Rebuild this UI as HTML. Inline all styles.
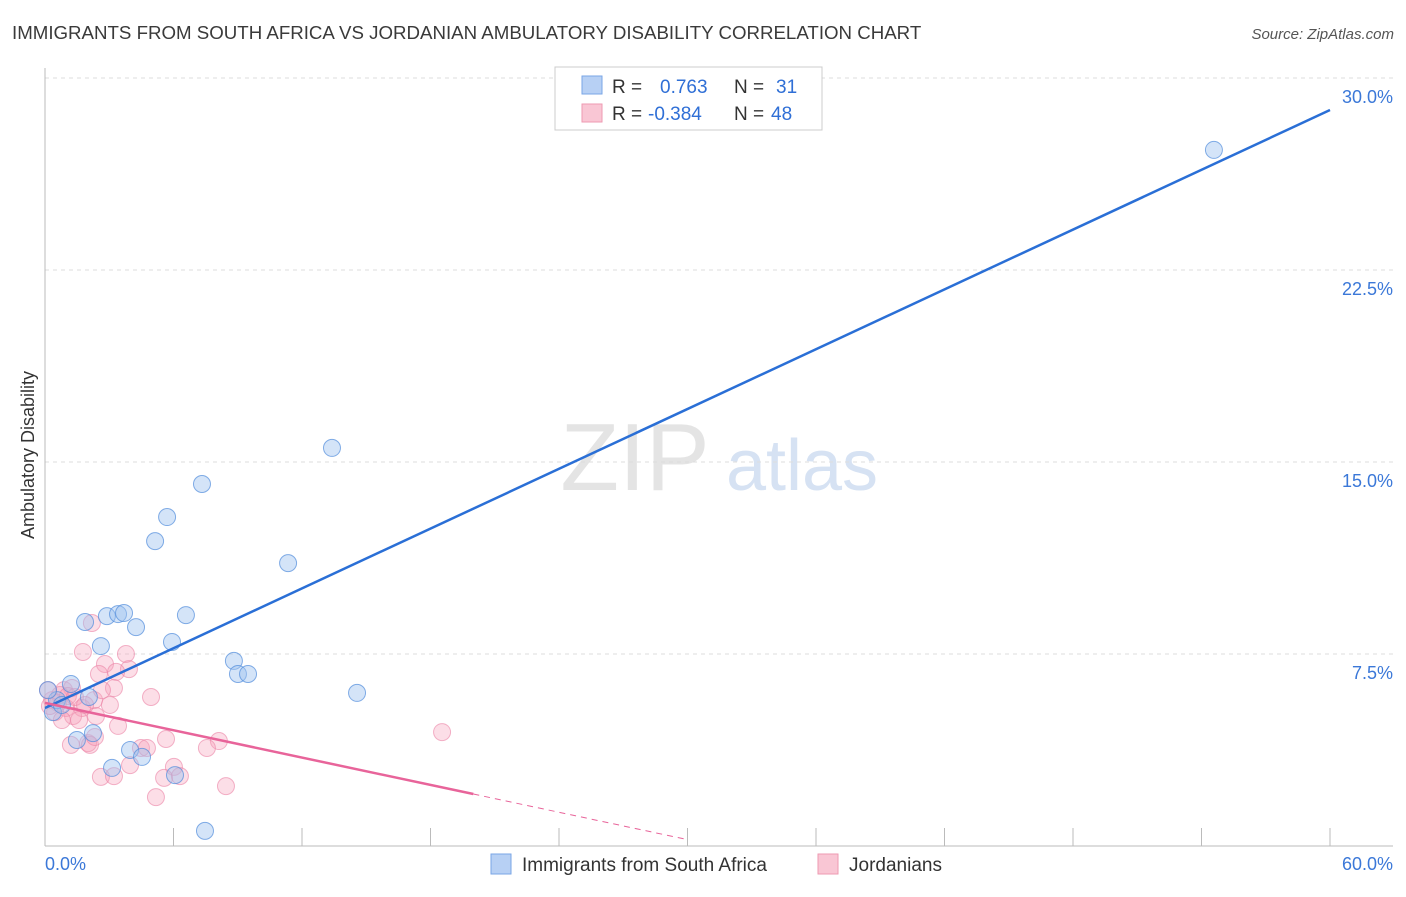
<!DOCTYPE html>
<html><head><meta charset="utf-8"><style>
body{margin:0;background:#fff;font-family:"Liberation Sans",sans-serif}
svg text{font-family:"Liberation Sans",sans-serif}
</style></head><body>
<svg id="c" width="1406" height="892">
<text x="12" y="39" font-size="18.7" fill="#3a3a3a">IMMIGRANTS FROM SOUTH AFRICA VS JORDANIAN AMBULATORY DISABILITY CORRELATION CHART</text>
<text x="1394" y="39" font-size="15" fill="#555" font-style="italic" text-anchor="end">Source: ZipAtlas.com</text>
<text x="635" y="490" font-size="96" fill="#e4e4e4" font-family="Liberation Serif" text-anchor="middle">ZIP</text>
<text x="802" y="490" font-size="72" fill="#d6e2f3" text-anchor="middle">atlas</text>
<text transform="translate(34,455) rotate(-90)" font-size="18" fill="#333" text-anchor="middle">Ambulatory Disability</text>
<g id="grid"></g><g id="pts"></g><g id="lines"></g>
<g>
<rect x="555" y="67" width="267" height="63" fill="#fff" stroke="#ccc"/>
<rect x="582" y="76" width="20" height="18" fill="#b7d0f4" stroke="#7aa6e6"/>
<rect x="582" y="104" width="20" height="18" fill="#f9c6d4" stroke="#ee9ab2"/>
<text x="612" y="93" font-size="19" fill="#333">R =</text>
<text x="660" y="93" font-size="19" fill="#2f6fd6">0.763</text>
<text x="734" y="93" font-size="19" fill="#333">N =</text>
<text x="776" y="93" font-size="19" fill="#2f6fd6">31</text>
<text x="612" y="120" font-size="19" fill="#333">R =</text>
<text x="648" y="120" font-size="19" fill="#2f6fd6">-0.384</text>
<text x="734" y="120" font-size="19" fill="#333">N =</text>
<text x="771" y="120" font-size="19" fill="#2f6fd6">48</text>
</g>
<g>
<rect x="491" y="854" width="20" height="20" fill="#b7d0f4" stroke="#7aa6e6"/>
<text x="522" y="871" font-size="19" fill="#333">Immigrants from South Africa</text>
<rect x="818" y="854" width="20" height="20" fill="#f9c6d4" stroke="#ee9ab2"/>
<text x="849" y="871" font-size="19" fill="#333">Jordanians</text>
</g>
</svg>
<script>
const yTicks=[7.5,15.0,22.5,30.0];
const xTickLabels=["0.0%","60.0%"];
const blueX=[54.58,13.40,7.33,5.70,5.14,11.35,1.87,2.89,3.41,3.69,4.25,6.58,2.61,5.93,8.82,9.01,9.48,14.57,0.37,1.21,2.05,2.24,1.49,3.97,4.53,3.13,6.07,7.47,0.56,0.14,0.79];
const blueY=[27.19,15.55,14.14,12.85,11.91,11.05,8.75,8.98,9.06,9.10,8.55,9.02,7.81,7.97,7.23,6.72,6.72,5.98,5.23,6.33,5.82,4.41,4.14,3.75,3.48,3.05,2.77,0.59,5.70,6.09,5.51];
const pinkX=[2.19,1.77,3.78,2.80,3.92,2.52,3.32,3.22,0.89,1.26,0.33,0.61,0.98,1.73,2.29,2.66,4.95,2.38,1.31,1.59,3.41,5.65,8.12,7.56,2.01,2.10,4.48,4.76,6.02,5.56,2.61,3.22,5.18,8.45,18.54,0.14,0.47,0.70,1.07,1.40,0.23,1.87,0.79,2.33,3.97,6.30,1.21,3.03];
const pinkY=[8.71,7.58,7.50,7.11,6.91,6.72,6.80,6.17,6.09,6.17,5.70,5.59,5.39,5.39,5.70,6.09,5.82,5.08,5.08,4.92,4.69,4.18,4.10,3.83,4.02,3.95,3.83,3.83,3.09,2.66,2.70,2.73,1.91,2.34,4.45,6.09,5.23,5.90,5.86,5.82,5.47,5.51,4.92,4.26,3.16,2.73,3.95,5.51];
const blueTrendX=[0,60];const blueTrendY=[5.39,28.75];
const pinkTrendX=[0,20,30];const pinkTrendY=[5.59,2.03,0.25];
const NS="http://www.w3.org/2000/svg";
const X=v=>45+v/60*1285, Y=v=>846-v/7.5*192;
function mk(p,t,a){const e=document.createElementNS(NS,t);for(const k in a)e.setAttribute(k,a[k]);p.appendChild(e);return e;}
const g=document.getElementById('grid');
yTicks.forEach(t=>{
 const l=mk(g,'line',{x1:45,x2:1393,y1:Y(t),y2:Y(t),stroke:'#ddd','stroke-dasharray':'4,4'});
 
 
 const tx=mk(g,'text',{x:1393,y:Y(t)+25,'font-size':18,fill:'#3b78d8','text-anchor':'end'});
 tx.textContent=t.toFixed(1)+'%';
 
 
});
mk(g,'line',{x1:45,x2:1393,y1:846,y2:846,stroke:'#bbb'});
mk(g,'line',{x1:45,x2:45,y1:68,y2:846,stroke:'#bbb'});
for(let i=1;i<=10;i++){const x=45+i*128.5;mk(g,'line',{x1:x,x2:x,y1:828,y2:846,stroke:'#bbb'});}
xTickLabels.forEach((s,i)=>{
 const tx=mk(g,'text',{x:i?1393:45,y:870,'font-size':18,fill:'#3b78d8','text-anchor':i?'end':'start'});
 tx.textContent=s;
 
 
});
const p=document.getElementById('pts');
pinkX.forEach((v,i)=>{const c=mk(p,'circle',{cx:X(v),cy:Y(pinkY[i]),r:8.5,fill:'rgba(245,160,185,0.35)',stroke:'rgba(235,130,165,0.6)'});
 
 });
blueX.forEach((v,i)=>{const c=mk(p,'circle',{cx:X(v),cy:Y(blueY[i]),r:8.5,fill:'rgba(160,195,240,0.45)',stroke:'rgba(80,140,220,0.7)'});
 
 });
const L=document.getElementById('lines');
const bl=mk(L,'line',{x1:X(blueTrendX[0]),y1:Y(blueTrendY[0]),x2:X(blueTrendX[1]),y2:Y(blueTrendY[1]),stroke:'#2a6fd6','stroke-width':2.5});


const pl=mk(L,'line',{x1:X(pinkTrendX[0]),y1:Y(pinkTrendY[0]),x2:X(pinkTrendX[1]),y2:Y(pinkTrendY[1]),stroke:'#e8649a','stroke-width':2.5});


const pd=mk(L,'line',{x1:X(pinkTrendX[1]),y1:Y(pinkTrendY[1]),x2:X(pinkTrendX[2]),y2:Y(pinkTrendY[2]),stroke:'#e8649a','stroke-width':1,'stroke-dasharray':'6,5'});


</script>
</body></html>
